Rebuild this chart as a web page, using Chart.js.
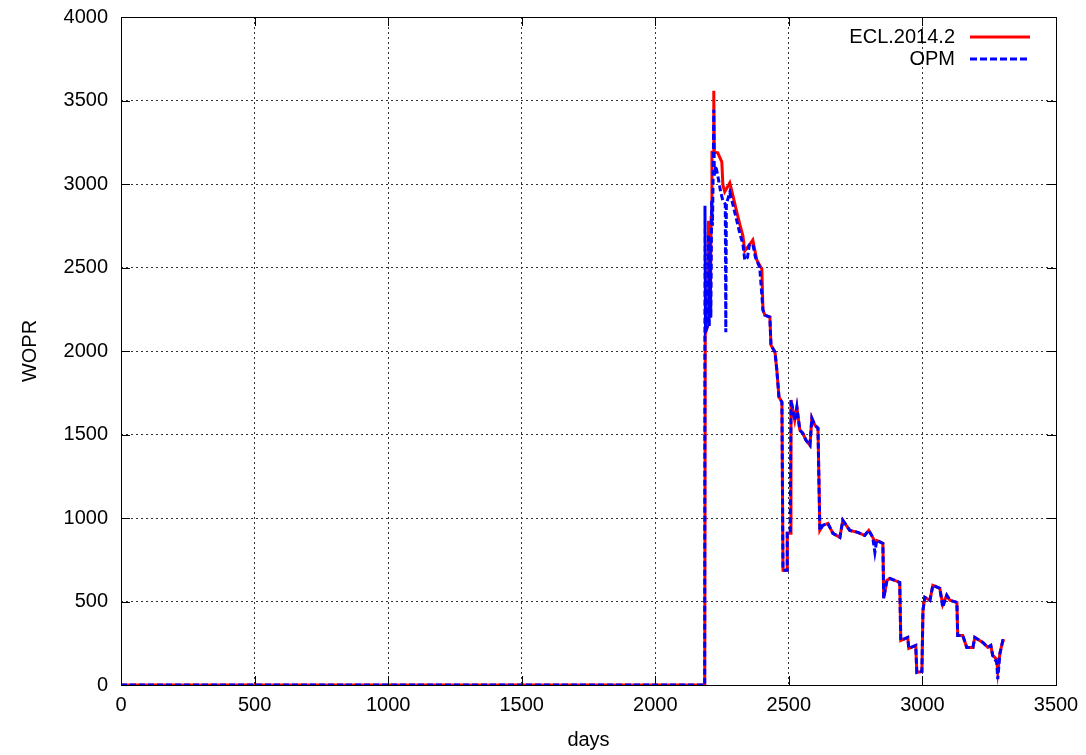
<!DOCTYPE html>
<html>
<head>
<meta charset="utf-8">
<title>WOPR</title>
<script src="https://cdn.jsdelivr.net/npm/chart.js@4/dist/chart.umd.min.js"></script>
<style>
  html, body { margin: 0; padding: 0; background: #fff; }
  #wrap { width: 1086px; height: 755px; }
</style>
</head>
<body>
<div id="wrap"><canvas id="chart" width="1086" height="755"></canvas></div>
<script>
// values
const eclDays = [0, 2185, 2187, 2196, 2199, 2203, 2206, 2209, 2212, 2217, 2219, 2221, 2234, 2249, 2253, 2260, 2279, 2290, 2305, 2317, 2328, 2335, 2350, 2365, 2380, 2399, 2403, 2410, 2429, 2433, 2448, 2455, 2463, 2474, 2478, 2494, 2494, 2505, 2508, 2515, 2522, 2530, 2541, 2552, 2564, 2579, 2586, 2597, 2609, 2616, 2627, 2646, 2665, 2691, 2702, 2728, 2758, 2784, 2799, 2814, 2822, 2829, 2852, 2855, 2867, 2878, 2915, 2919, 2945, 2949, 2975, 2979, 2998, 3002, 3009, 3028, 3039, 3065, 3076, 3091, 3103, 3129, 3132, 3151, 3166, 3189, 3196, 3226, 3245, 3256, 3263, 3278, 3282, 3290, 3301, 3308];
const eclWopr = [0, 0, 2100, 2150, 2780, 2700, 2200, 2800, 3190, 3190, 3558, 3190, 3187, 3133, 2995, 2953, 3007, 2935, 2833, 2755, 2690, 2600, 2630, 2665, 2545, 2490, 2245, 2215, 2203, 2035, 1994, 1886, 1724, 1694, 687, 687, 908, 908, 1706, 1646, 1586, 1664, 1526, 1508, 1466, 1436, 1598, 1556, 1538, 926, 956, 968, 908, 884, 986, 926, 914, 896, 926, 884, 860, 866, 848, 519, 626, 638, 614, 267, 285, 219, 237, 75, 81, 447, 525, 507, 597, 579, 480, 537, 507, 495, 297, 297, 225, 225, 285, 255, 225, 237, 177, 155, 80, 189, 267, 267];

const opmDays = [0, 2185, 2186, 2188, 2196, 2199, 2202, 2205, 2208, 2211, 2214, 2217, 2219, 2221, 2226, 2234, 2245, 2253, 2262, 2264, 2266, 2279, 2290, 2305, 2317, 2328, 2335, 2345, 2352, 2365, 2375, 2391, 2403, 2410, 2429, 2433, 2448, 2455, 2463, 2474, 2478, 2494, 2494, 2505, 2508, 2515, 2522, 2530, 2541, 2552, 2564, 2579, 2586, 2597, 2609, 2616, 2627, 2646, 2665, 2691, 2702, 2728, 2758, 2784, 2799, 2814, 2822, 2829, 2852, 2855, 2867, 2878, 2915, 2919, 2945, 2949, 2975, 2979, 2998, 3002, 3009, 3028, 3039, 3065, 3076, 3091, 3103, 3129, 3132, 3151, 3166, 3189, 3196, 3226, 3245, 3256, 3263, 3278, 3282, 3290, 3301, 3308];
const opmWopr = [0, 0, 2870, 2120, 2150, 2700, 2150, 2650, 2200, 2900, 2750, 3100, 3444, 3050, 3110, 3050, 2950, 2900, 2880, 2113, 2880, 2950, 2880, 2780, 2700, 2640, 2545, 2560, 2635, 2640, 2560, 2500, 2245, 2215, 2203, 2035, 1994, 1886, 1724, 1694, 687, 687, 908, 908, 1706, 1646, 1586, 1664, 1526, 1508, 1466, 1436, 1598, 1556, 1538, 926, 956, 968, 908, 884, 986, 926, 914, 896, 926, 884, 794, 866, 848, 519, 626, 638, 614, 267, 285, 219, 237, 75, 81, 447, 525, 507, 597, 579, 465, 537, 507, 495, 297, 297, 225, 225, 285, 255, 225, 237, 177, 135, 35, 189, 267, 267];

const xTicks = [0, 500, 1000, 1500, 2000, 2500, 3000, 3500];
const yTicks = [0, 500, 1000, 1500, 2000, 2500, 3000, 3500, 4000];

const FONT = "'Liberation Sans', Arial, sans-serif";

const toPoints = (xs, ys) => xs.map((x, i) => ({ x, y: ys[i] }));

// gnuplot style frame with inward tics on all four sides
const framePlugin = {
  id: "frame",
  afterDraw(chart) {
    const { ctx, chartArea: a, scales } = chart;
    ctx.save();
    ctx.strokeStyle = "#000";
    ctx.lineWidth = 1;
    ctx.setLineDash([]);
    ctx.strokeRect(Math.round(a.left) + 0.5, Math.round(a.top) + 0.5, Math.round(a.right - a.left), Math.round(a.bottom - a.top));
    const len = 9;
    ctx.beginPath();
    xTicks.forEach((v) => {
      const px = Math.round(scales.x.getPixelForValue(v)) + 0.5;
      ctx.moveTo(px, a.bottom); ctx.lineTo(px, a.bottom - len);
      ctx.moveTo(px, a.top); ctx.lineTo(px, a.top + len);
    });
    yTicks.forEach((v) => {
      const py = Math.round(scales.y.getPixelForValue(v)) + 0.5;
      ctx.moveTo(a.left, py); ctx.lineTo(a.left + len, py);
      ctx.moveTo(a.right, py); ctx.lineTo(a.right - len, py);
    });
    ctx.stroke();
    ctx.restore();
  },
};

// key in the top right corner, text left of the sample line
const keyPlugin = {
  id: "key",
  afterDraw(chart) {
    const { ctx } = chart;
    const rows = [
      { label: "ECL.2014.2", color: "#ff0000", dash: [], y: 37 },
      { label: "OPM", color: "#0000ff", dash: [7, 3], y: 59 },
    ];
    ctx.save();
    ctx.font = `20px ${FONT}`;
    ctx.textAlign = "right";
    ctx.textBaseline = "middle";
    rows.forEach((r) => {
      ctx.fillStyle = "#000";
      ctx.fillText(r.label, 955, r.y);
      ctx.strokeStyle = r.color;
      ctx.lineWidth = 3;
      ctx.setLineDash(r.dash);
      ctx.beginPath();
      ctx.moveTo(970, r.y);
      ctx.lineTo(1030, r.y);
      ctx.stroke();
    });
    ctx.restore();
  },
};

new Chart(document.getElementById("chart"), {
  type: "line",
  data: {
    datasets: [
      {
        label: "ECL.2014.2",
        data: toPoints(eclDays, eclWopr),
        borderColor: "#ff0000",
        borderWidth: 3,
        pointRadius: 0,
        tension: 0,
        order: 2,
      },
      {
        label: "OPM",
        data: toPoints(opmDays, opmWopr),
        borderColor: "#0000ff",
        borderWidth: 3,
        borderDash: [6, 3],
        pointRadius: 0,
        tension: 0,
        order: 1,
      },
    ],
  },
  options: {
    responsive: false,
    animation: false,
    layout: { padding: { top: 17, right: 30, left: 0, bottom: 0 } },
    plugins: { legend: { display: false }, tooltip: { enabled: false } },
    scales: {
      x: {
        type: "linear",
        min: 0,
        max: 3500,
        afterFit: (s) => { s.height = 70; s.paddingLeft = 0; s.paddingRight = 0; },
        afterBuildTicks: (s) => { s.ticks = xTicks.map((v) => ({ value: v })); },
        ticks: { color: "#000", font: { family: FONT, size: 20 }, padding: 8, maxRotation: 0, callback: (v) => String(v) },
        grid: { color: "#333", lineWidth: 1, drawTicks: false },
        border: { display: false, dash: [2, 3] },
        title: { display: true, text: "days", color: "#000", font: { family: FONT, size: 20 }, padding: { top: 0, bottom: 3 } },
      },
      y: {
        min: 0,
        max: 4000,
        afterFit: (s) => { s.width = 121; s.paddingTop = 0; s.paddingBottom = 0; },
        afterBuildTicks: (s) => { s.ticks = yTicks.map((v) => ({ value: v })); },
        ticks: { color: "#000", font: { family: FONT, size: 20 }, padding: 13, callback: (v) => String(v) },
        grid: { color: "#333", lineWidth: 1, drawTicks: false },
        border: { display: false, dash: [2, 3] },
        title: { display: true, text: "WOPR", color: "#000", font: { family: FONT, size: 20 }, padding: { top: 18, bottom: 0 } },
      },
    },
  },
  plugins: [framePlugin, keyPlugin],
});
</script>
</body>
</html>
